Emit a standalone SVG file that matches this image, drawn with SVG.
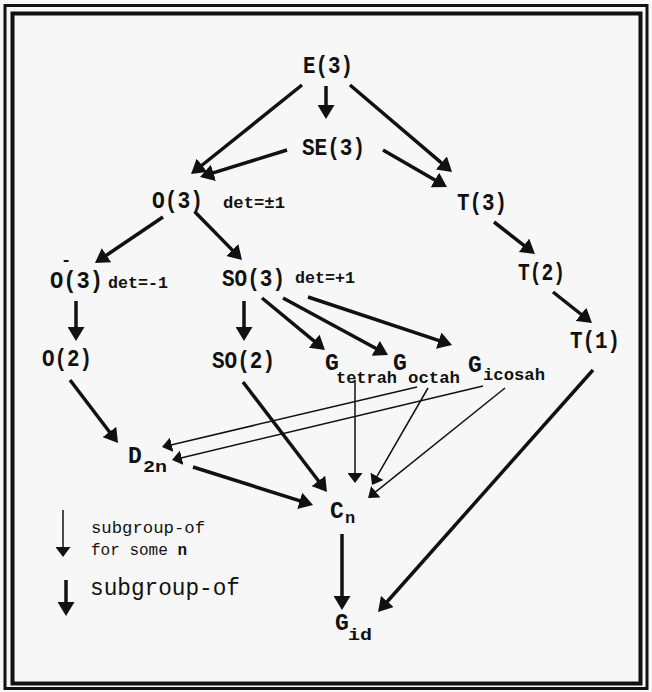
<svg xmlns="http://www.w3.org/2000/svg" width="652" height="692" viewBox="0 0 652 692">
<style>
.lbl{font-family:"Liberation Mono","Courier New",monospace;font-size:23px;font-weight:bold;fill:#111}
.sm{font-family:"Liberation Mono","Courier New",monospace;font-size:17px;font-weight:bold;fill:#111}
.leg{font-family:"Liberation Mono","Courier New",monospace;font-size:16px;fill:#111}
.legb{font-family:"Liberation Mono","Courier New",monospace;font-size:23px;fill:#111}
.thick{stroke:#111;stroke-width:3.5;fill:none;marker-end:url(#hk)}
.thin{stroke:#111;stroke-width:1.5;fill:none;marker-end:url(#hn)}
</style>
<defs>
<marker id="hk" markerUnits="userSpaceOnUse" markerWidth="14" markerHeight="17" viewBox="0 0 14 17" refX="2" refY="8.5" orient="auto"><path d="M0,0 L14,8.5 L0,17 z" fill="#111"/></marker>
<marker id="hn" markerUnits="userSpaceOnUse" markerWidth="10" markerHeight="15" viewBox="0 0 10 15" refX="3" refY="7.5" orient="auto"><path d="M0,0 L10,7.5 L0,15 z" fill="#111"/></marker>
</defs>
<rect x="0" y="0" width="652" height="692" fill="#f7f7f7"/>
<rect x="5" y="5.5" width="642" height="683" fill="none" stroke="#111" stroke-width="3"/>
<rect x="12.5" y="13.5" width="628" height="670" fill="none" stroke="#111" stroke-width="4"/>

<g id="connectors">
<line class="thick" x1="302" y1="85" x2="200.4" y2="166.5"/>
<line class="thick" x1="326" y1="86" x2="326" y2="107"/>
<line class="thick" x1="350" y1="85" x2="442.9" y2="164.2"/>
<line class="thick" x1="287" y1="150" x2="211.5" y2="173.4"/>
<line class="thick" x1="383" y1="150" x2="436.6" y2="181"/>
<line class="thick" x1="163" y1="217" x2="104.9" y2="256.3"/>
<line class="thick" x1="195" y1="212" x2="233.6" y2="251.4"/>
<line class="thick" x1="494" y1="222" x2="525.5" y2="246.6"/>
<line class="thick" x1="76" y1="301" x2="76" y2="329"/>
<line class="thick" x1="244" y1="301" x2="244" y2="329"/>
<line class="thick" x1="262" y1="298" x2="315.7" y2="342.4"/>
<line class="thick" x1="283" y1="298" x2="377.5" y2="349.3"/>
<line class="thick" x1="308" y1="297" x2="440.6" y2="341.2"/>
<line class="thick" x1="553" y1="292" x2="582.6" y2="315.5"/>
<line class="thick" x1="70" y1="380" x2="110.7" y2="433.5"/>
<line class="thick" x1="243" y1="382" x2="319.7" y2="482.5"/>
<line class="thick" x1="193" y1="467" x2="301.6" y2="501.4"/>
<line class="thick" x1="342" y1="534" x2="342" y2="598"/>
<line class="thick" x1="593" y1="370" x2="386" y2="603"/>
<line class="thin" x1="417" y1="387" x2="168.8" y2="445.4"/>
<line class="thin" x1="483" y1="386" x2="178.8" y2="458.4"/>
<line class="thin" x1="355" y1="380" x2="355" y2="476"/>
<line class="thin" x1="428" y1="388" x2="375.5" y2="478.9"/>
<line class="thin" x1="505" y1="388" x2="373.5" y2="493.6"/>
</g>

<g id="E3"><text class="lbl" x="303" y="73" textLength="50" lengthAdjust="spacingAndGlyphs">E(3)</text></g>
<g id="SE3"><text class="lbl" x="302" y="155" textLength="63" lengthAdjust="spacingAndGlyphs">SE(3)</text></g>
<g id="O3"><text class="lbl" x="152" y="208" textLength="51" lengthAdjust="spacingAndGlyphs">O(3)</text>
<text class="sm" x="223" y="208" textLength="62" lengthAdjust="spacingAndGlyphs">det=±1</text></g>
<g id="T3"><text class="lbl" x="457" y="210" textLength="50" lengthAdjust="spacingAndGlyphs">T(3)</text></g>
<g id="Ominus3"><text class="lbl" x="50" y="288" textLength="53" lengthAdjust="spacingAndGlyphs">O(3)</text>
<text class="sm" x="66" y="265" font-size="13" text-anchor="middle">-</text>
<text class="sm" x="108" y="288" textLength="60" lengthAdjust="spacingAndGlyphs">det=-1</text></g>
<g id="SO3"><text class="lbl" x="222" y="286" textLength="63" lengthAdjust="spacingAndGlyphs">SO(3)</text>
<text class="sm" x="295" y="283" textLength="60" lengthAdjust="spacingAndGlyphs">det=+1</text></g>
<g id="T2"><text class="lbl" x="518" y="280" textLength="47" lengthAdjust="spacingAndGlyphs">T(2)</text></g>
<g id="T1"><text class="lbl" x="570" y="348" textLength="50" lengthAdjust="spacingAndGlyphs">T(1)</text></g>
<g id="O2"><text class="lbl" x="42" y="366" textLength="50" lengthAdjust="spacingAndGlyphs">O(2)</text></g>
<g id="SO2"><text class="lbl" x="212" y="368" textLength="63" lengthAdjust="spacingAndGlyphs">SO(2)</text></g>
<g id="Gtetrah"><text class="lbl" x="325" y="370">G</text><text class="sm" x="336" y="383" textLength="61" lengthAdjust="spacingAndGlyphs">tetrah</text></g>
<g id="Goctah"><text class="lbl" x="393" y="370">G</text><text class="sm" x="408" y="383" textLength="52" lengthAdjust="spacingAndGlyphs">octah</text></g>
<g id="Gicosah"><text class="lbl" x="468" y="372">G</text><text class="sm" x="483" y="380" textLength="62" lengthAdjust="spacingAndGlyphs">icosah</text></g>
<g id="D2n"><text class="lbl" x="128" y="463">D</text><text class="sm" x="143" y="472" textLength="24" lengthAdjust="spacingAndGlyphs">2n</text></g>
<g id="Cn"><text class="lbl" x="330" y="518">C</text><text class="sm" x="345" y="523">n</text></g>
<g id="Gid"><text class="lbl" x="335" y="630">G</text><text class="sm" x="348" y="640" textLength="24" lengthAdjust="spacingAndGlyphs">id</text></g>

<g id="legend">
<line class="thin" x1="63" y1="510" x2="63" y2="550"/>
<text class="leg" x="91" y="533" textLength="114" lengthAdjust="spacingAndGlyphs">subgroup-of</text>
<text class="leg" x="91" y="555">for some <tspan font-weight="bold">n</tspan></text>
<line class="thick" x1="66" y1="580" x2="66" y2="604"/>
<text class="legb" x="90" y="595" textLength="150" lengthAdjust="spacingAndGlyphs">subgroup-of</text>
</g>
</svg>
